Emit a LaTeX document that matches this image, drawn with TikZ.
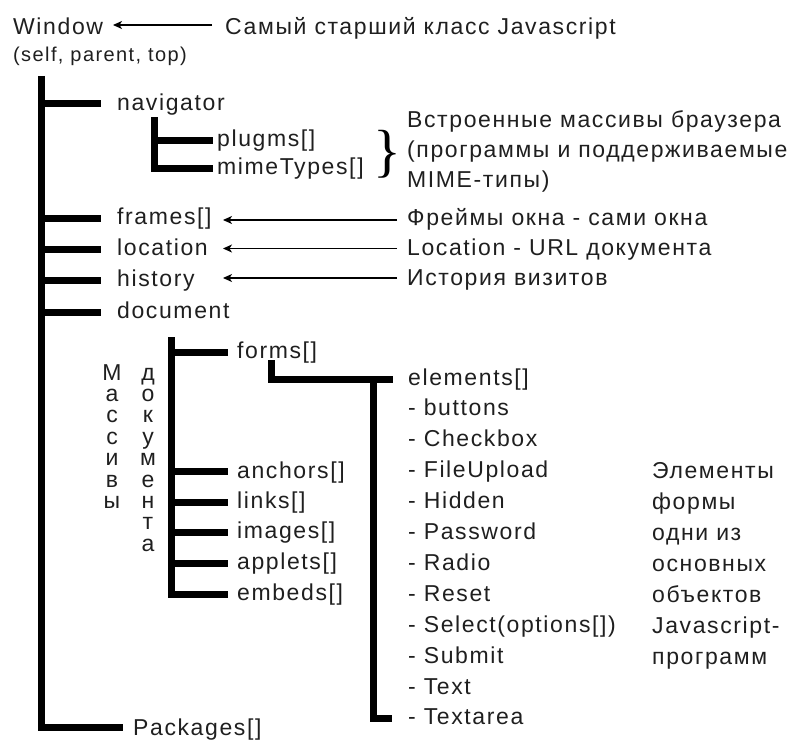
\documentclass[tikz,border=0pt]{standalone}
\usepackage{fontspec}
\setmainfont{Liberation Sans}[LetterSpace=7]
\newfontfamily\bracefont{Liberation Serif}
\usetikzlibrary{arrows.meta}
\begin{document}
\begin{tikzpicture}[x=1pt,y=-1pt,
  tree/.style={line width=7pt,line join=miter},
  lbl/.style={anchor=base west,inner sep=0pt,text=black!88,font=\fontsize{23}{27}\selectfont},
  small/.style={anchor=base west,inner sep=0pt,text=black!88,font=\fontsize{20}{24}\selectfont},
  vlet/.style={anchor=base,inner sep=0pt,text=black!88,font=\fontsize{23}{27}\selectfont},
  ptr/.style={line width=1.3pt,-{Stealth[length=9pt,width=8pt,inset=2.5pt]}},
]
\useasboundingbox (0,0) rectangle (802,741);

% --- root
\node[lbl] (win) at (13,35) {Window};
\node[small] (self) at (13,62) {(self, parent, top)};
\node[lbl] (top) at (225,35) {Самый старший класс Javascript};
\coordinate (winA) at (113,25);
\coordinate (winB) at (212,25);
\draw[ptr] (winB) -- (winA);

% --- trunk
\coordinate (t0) at (41.5,76);
\coordinate (t1) at (41.5,727);
\coordinate (pkb) at (123,727);
\draw[tree] (t0) -- (t1) -- (pkb);
\node[lbl] (pk) at (133,735) {Packages[]};

\coordinate (navb) at (101,104);
\coordinate (frb) at (101,218);
\coordinate (lob) at (101,249);
\coordinate (hib) at (101,280);
\coordinate (dob) at (101,312);
\foreach \c in {navb,frb,lob,hib,dob}{\draw[tree] (t0 |- \c) -- (\c);}
\node[lbl] (nav) at (117,110.5) {navigator};
\node[lbl] (fr) at (117,224.5) {frames[]};
\node[lbl] (lo) at (117,255.5) {location};
\node[lbl] (hi) at (117,286.5) {history};
\node[lbl] (do) at (117,318.5) {document};

% --- navigator subtree
\coordinate (n0) at (154,117);
\coordinate (n1) at (154,168);
\coordinate (plb) at (213,140);
\coordinate (mib) at (213,168);
\draw[tree] (n0) -- (n1) -- (mib);
\draw[tree] (n0 |- plb) -- (plb);
\node[lbl] (pl) at (217,146.5) {plugms[]};
\node[lbl] (mi) at (217,174.5) {mimeTypes[]};
\node[anchor=center,inner sep=0pt,font=\bracefont\fontsize{58}{58}\selectfont] (br) at (387,154) {\}};
\node[lbl] (b1) at (407,127) {Встроенные массивы браузера};
\node[lbl] (b2) at (407,157) {(программы и поддерживаемые};
\node[lbl] (b3) at (407,187) {MIME-типы)};

% --- comments with arrows
\node[lbl] (cfr) at (407,225) {Фреймы окна - сами окна};
\node[lbl] (clo) at (407,255) {Location - URL документа};
\node[lbl] (chi) at (407,285) {История визитов};
\coordinate (afr) at (397,220);
\coordinate (alo) at (397,248.5);
\coordinate (ahi) at (397,278);
\foreach \c in {afr,alo,ahi}{\draw[ptr] (\c) -- (223,0 |- \c);}

% --- document subtree
\coordinate (d0) at (171,337);
\coordinate (d1) at (171,594);
\coordinate (fob) at (228,352);
\coordinate (anb) at (228,471);
\coordinate (lib) at (228,502);
\coordinate (imb) at (228,532);
\coordinate (apb) at (228,563);
\coordinate (emb) at (228,594);
\draw[tree] (d0) -- (d1) -- (emb);
\foreach \c in {fob,anb,lib,imb,apb}{\draw[tree] (d0 |- \c) -- (\c);}
\node[lbl] (fo) at (237,358) {forms[]};
\node[lbl] (an) at (237,478) {anchors[]};
\node[lbl] (li) at (237,508.5) {links[]};
\node[lbl] (im) at (237,538.5) {images[]};
\node[lbl] (ap) at (237,569) {applets[]};
\node[lbl] (em) at (237,600) {embeds[]};

% vertical words
\foreach \l [count=\i from 0] in {М,а,с,с,и,в,ы}{\node[vlet] (ma\i) at (112,380+21.4*\i) {\l};}
\foreach \l [count=\i from 0] in {д,о,к,у,м,е,н,т,а}{\node[vlet] (dk\i) at (148,380+21.4*\i) {\l};}

% --- forms -> elements
\coordinate (f0) at (271.5,360);
\coordinate (f1) at (271.5,379);
\coordinate (elb) at (393,379);
\coordinate (e0) at (373,379);
\coordinate (e1) at (373,718);
\coordinate (tab) at (392,718);
\draw[tree] (f0) -- (f1) -- (elb);
\draw[tree] (e0) -- (e1) -- (tab);
\node[lbl] (el) at (408,385) {elements[]};
\foreach \t [count=\i from 1] in {buttons,Checkbox,FileUpload,Hidden,Password,Radio,Reset,Select(options[]),Submit,Text,Textarea}
  {\node[lbl] (it\i) at (408,385+30.9*\i) {- \t};}

% right column
\foreach \t [count=\i from 0] in {Элементы,формы,одни из,основных,объектов,Javascript-,программ}
  {\node[lbl] (rc\i) at (652,478.6+30.9*\i) {\t};}
\end{tikzpicture}
\end{document}
